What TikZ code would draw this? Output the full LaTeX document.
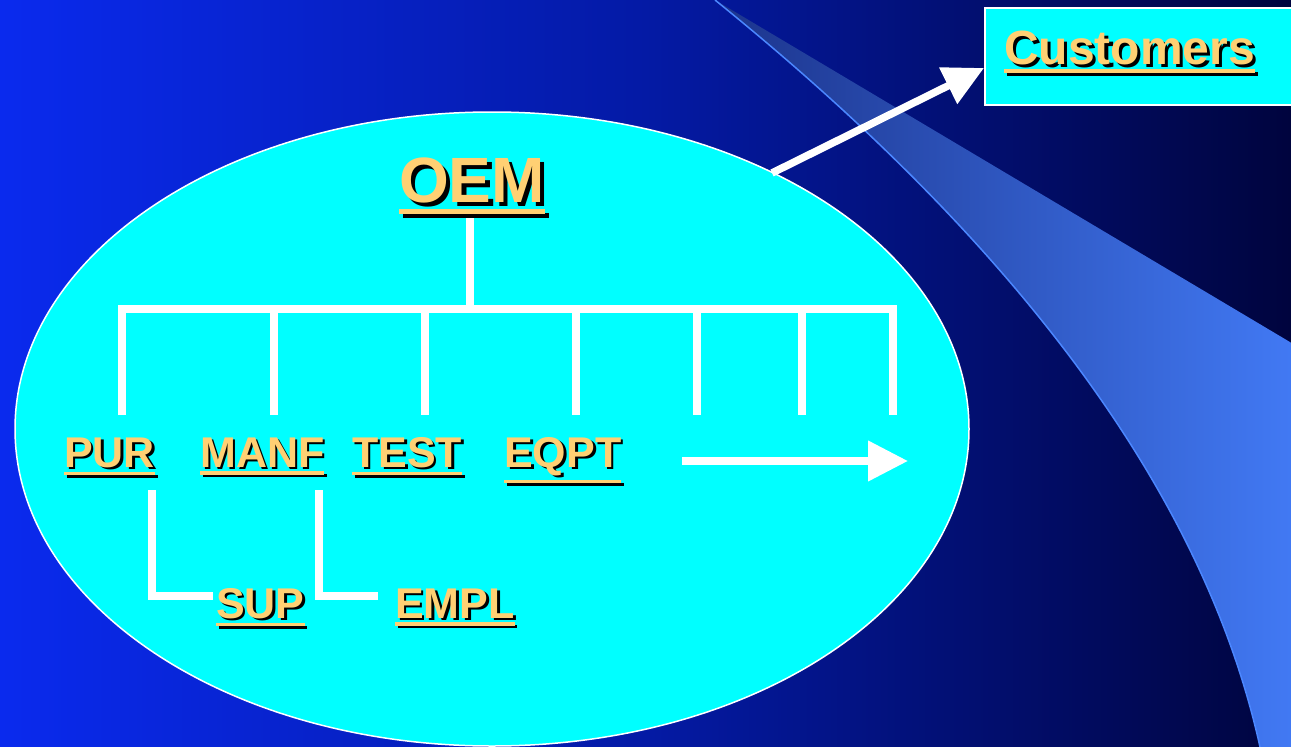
\documentclass[tikz,border=0pt]{standalone}
\usepackage{fontspec}
\setmainfont{Liberation Sans}
\usetikzlibrary{arrows.meta,shapes.geometric}
\definecolor{peach}{HTML}{FFD073}
\definecolor{aqua}{RGB}{0,255,255}
\definecolor{bgL}{RGB}{10,42,238}
\definecolor{bgM}{RGB}{4,26,165}
\definecolor{bgR}{RGB}{0,4,62}
\definecolor{swL}{RGB}{28,52,140}
\definecolor{swR}{RGB}{66,122,245}
\definecolor{swEdge}{RGB}{75,135,255}
\newcommand\myul[1]{\vtop{\hbox{#1}\kern.1em\hrule height .075em}}
\newcommand\shtxt[1]{\leavevmode\rlap{\kern.065em\raisebox{-.065em}{\color{black}\myul{#1}}}{\color{peach}\myul{#1}}}
\tikzset{
  lbl/.style={anchor=base west, inner sep=0pt, font=\bfseries\fontsize{43pt}{48pt}\selectfont},
  wline/.style={draw=white, line width=7.5pt, line join=miter},
  warrow/.style={draw=white, line width=7.5pt, -{Triangle[length=40pt,width=39pt]}},
}
\begin{document}
\begin{tikzpicture}[x=1pt,y=-1pt]
\useasboundingbox (0,0) rectangle (1291,747);
\clip (0,0) rectangle (1291,747);
% background
\shade[left color=bgL, right color=bgR, middle color=bgM] (0,0) rectangle (1291,747);
% swoosh
\shade[left color=swL, right color=swR] (715,0) .. controls (1023,249) and (1205,498) .. (1260,747) -- (1300,747) -- (1300,348) -- cycle;
\draw[swEdge, line width=1.5pt] (715,0) .. controls (1023,249) and (1205,498) .. (1260,747);
% customers box
\node[draw=white, fill=aqua, line width=1.5pt, anchor=north west, minimum width=330pt, minimum height=97pt, inner sep=0pt] (custbox) at (984,7) {};
% ellipse
\node[ellipse, draw=white, fill=aqua, line width=1.5pt, minimum width=954pt, minimum height=634pt, inner sep=0pt] (ell) at (492,429) {};
% tree
\coordinate (stemtop) at (470,218);
\coordinate (bar) at (470,309);
\draw[wline] (stemtop) -- (bar);
\draw[wline] (122,415) -- (122,309) -- (893,309) -- (893,415);
\foreach \x in {274,425,576,697,802} \draw[wline] (\x,309) -- (\x,415);
\draw[wline] (152,490) -- (152,596) -- (213,596);
\draw[wline] (319,490) -- (319,596) -- (378,596);
% labels
\node[lbl, font=\bfseries\fontsize{64pt}{70pt}\selectfont] (oem) at (399,202) {\shtxt{OEM}};
\node[lbl, font=\bfseries\fontsize{48pt}{52pt}\selectfont] (cust) at (1004,64) {\shtxt{Customers}};
\node[lbl] (pur) at (64,467) {\shtxt{PUR}};
\node[lbl] (manf) at (200,467) {\shtxt{MANF}};
\node[lbl] (test) at (352,467) {\shtxt{TEST}};
\node[lbl] (eqpt) at (504,467) {\shtxt{EQPT}};
\node[lbl] (sup) at (216,618) {\shtxt{SUP}};
\node[lbl] (empl) at (395,618) {\shtxt{EMPL}};
% arrows
\coordinate (flowA) at (682,461);
\coordinate (flowB) at (908,461);
\draw[warrow] (flowA) -- (flowB);
\coordinate (outA) at (772,173);
\coordinate (outB) at (984,68);
\draw[warrow] (outA) -- (outB);
\end{tikzpicture}
\end{document}
